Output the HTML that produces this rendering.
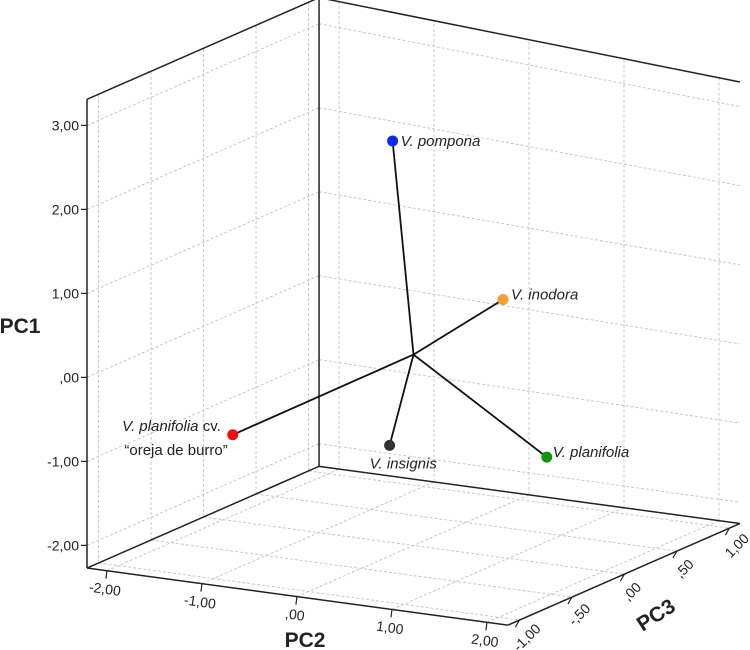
<!DOCTYPE html>
<html><head><meta charset="utf-8"><style>
body{margin:0;background:#fff}
svg{display:block;font-family:"Liberation Sans Narrow","Liberation Sans",sans-serif}
</style></head><body>
<svg id="chart" width="750" height="650" viewBox="0 0 750 650"></svg>
<script>
const labels=["V. pompona","V. inodora","V. planifolia cv.","V. insignis","V. planifolia"];
const pc1=[2.64,0.54,-0.87,-0.86,-1.40];
const pc2=[-0.22,0.39,-1.35,0.08,0.74];
const pc3=[0,0.5,-0.5,-0.3,0.6];
const centroid=[0.07,0,0];
const colors=["#0a2cf0","#f4a030","#f01010","#333333","#129412"];
const pc1Ticks=[-2,-1,0,1,2,3];
const pc2Ticks=[-2,-1,0,1,2];
const pc3Ticks=[-1,-0.5,0,0.5,1];
const fmt=v=>{let s=Math.abs(v).toFixed(2).replace('.',',');if(Math.abs(v)<1)s=s.replace(/^0/,'');return (v<0?'-':'')+s;};
const R1=[-2.27,3.31],R2=[-2.21,2.22],R3=[-1.11,1.1];
const O=[413.5,354.8],U=[95,12.9],V=[105,-46],W=[0,-84];
function P(a,b,c){
  const s=1-0.058*(b-R2[0])/(R2[1]-R2[0]);
  const fx=O[0]+b*U[0]+c*V[0], fy=O[1]+b*U[1]+c*V[1]+R1[0]*W[1];
  return [fx,fy+(a-R1[0])*W[1]*s];
}
const NS="http://www.w3.org/2000/svg",svg=document.getElementById('chart');
function el(t,at,parent){const e=document.createElementNS(NS,t);for(const k in at)e.setAttribute(k,at[k]);(parent||svg).appendChild(e);return e;}
function line(p,q,st,name){const e=el('line',Object.assign({x1:p[0],y1:p[1],x2:q[0],y2:q[1]},st));

return e;}
const grid={stroke:"#c8c8c8","stroke-width":1,"stroke-dasharray":"3,2"};
pc1Ticks.forEach(t=>line(P(t,R2[0],R3[0]),P(t,R2[0],R3[1]),grid,'grid-left-pc1'));
pc3Ticks.forEach(t=>line(P(R1[0],R2[0],t),P(R1[1],R2[0],t),grid,'grid-left-pc3'));
pc1Ticks.forEach(t=>line(P(t,R2[0],R3[1]),P(t,R2[1],R3[1]),grid,'grid-back-pc1'));
pc2Ticks.forEach(t=>line(P(R1[0],t,R3[1]),P(R1[1],t,R3[1]),grid,'grid-back-pc2'));
pc2Ticks.forEach(t=>line(P(R1[0],t,R3[0]),P(R1[0],t,R3[1]),grid,'grid-floor-pc2'));
pc3Ticks.forEach(t=>line(P(R1[0],R2[0],t),P(R1[0],R2[1],t),grid,'grid-floor-pc3'));
const edge={stroke:"#222","stroke-width":1.5};
line(P(R1[0],R2[0],R3[0]),P(R1[1],R2[0],R3[0]),edge,'pc1-axis-line');
line(P(R1[1],R2[0],R3[0]),P(R1[1],R2[0],R3[1]),edge,'box-edge');
line(P(R1[0],R2[0],R3[1]),P(R1[1],R2[0],R3[1]),edge,'box-edge');
line(P(R1[1],R2[0],R3[1]),P(R1[1],R2[1],R3[1]),edge,'box-edge');
line(P(R1[0],R2[0],R3[0]),P(R1[0],R2[0],R3[1]),edge,'box-edge');
line(P(R1[0],R2[0],R3[1]),P(R1[0],R2[1],R3[1]),edge,'box-edge');
line(P(R1[0],R2[0],R3[0]),P(R1[0],R2[1],R3[0]),edge,'pc2-axis-line');
line(P(R1[0],R2[1],R3[0]),P(R1[0],R2[1],R3[1]),edge,'pc3-axis-line');
const tk={stroke:"#222","stroke-width":1.2};
function txt(x,y,s,at,name){const e=el('text',Object.assign({x:x,y:y,"font-size":14,fill:"#222"},at||{}));e.textContent=s;

return e;}
pc1Ticks.forEach(t=>{const p=P(t,R2[0],R3[0]);line(p,[p[0]-6,p[1]],tk,'pc1-tick');txt(p[0]-8,p[1]+5,fmt(t),{"text-anchor":"end"},'pc1-tick-label');});
pc2Ticks.forEach(t=>{const p=P(R1[0],t,R3[0]);line(p,[p[0]-1,p[1]+8],tk,'pc2-tick');txt(p[0]-2,p[1]+23,fmt(t),{"text-anchor":"middle",transform:`rotate(8 ${p[0]-2} ${p[1]+18})`},'pc2-tick-label');});
pc3Ticks.forEach(t=>{const p=P(R1[0],R2[1],t);line(p,[p[0]-4,p[1]+7],tk,'pc3-tick');txt(p[0]+8,p[1]+22,fmt(t),{"text-anchor":"middle",transform:`rotate(-45 ${p[0]+8} ${p[1]+18})`},'pc3-tick-label');});
txt(20,333,"PC1",{"font-size":21,"font-weight":"bold","text-anchor":"middle"},'pc1-axis-title');
txt(305,647,"PC2",{"font-size":21,"font-weight":"bold","text-anchor":"middle"},'pc2-axis-title');
txt(656,622,"PC3",{"font-size":21,"font-weight":"bold","text-anchor":"middle",transform:"rotate(-33 656 615)"},'pc3-axis-title');
const c0=P(centroid[0],centroid[1],centroid[2]);
labels.forEach((l,i)=>{const p=P(pc1[i],pc2[i],pc3[i]);line(c0,p,{stroke:"#111","stroke-width":1.8},'spoke-line');});
const off=[[8,5,"start"],[8,0,"start"],[-12,-4,"end"],[-20,23,"start"],[6,0,"start"]];
labels.forEach((l,i)=>{const p=P(pc1[i],pc2[i],pc3[i]);
const c=el('circle',{cx:p[0],cy:p[1],r:5.5,fill:colors[i]});


const t=txt(p[0]+off[i][0],p[1]+off[i][1],"",{"font-style":"italic","text-anchor":off[i][2],"font-size":15},'point-label');
if(i===2){t.innerHTML='V. planifolia <tspan font-style="normal">cv.</tspan>';
txt(p[0]-5,p[1]+20,"“oreja de burro”",{"text-anchor":"end","font-size":15},'point-label-sub');}
else t.textContent=l;});
</script>
</body></html>
